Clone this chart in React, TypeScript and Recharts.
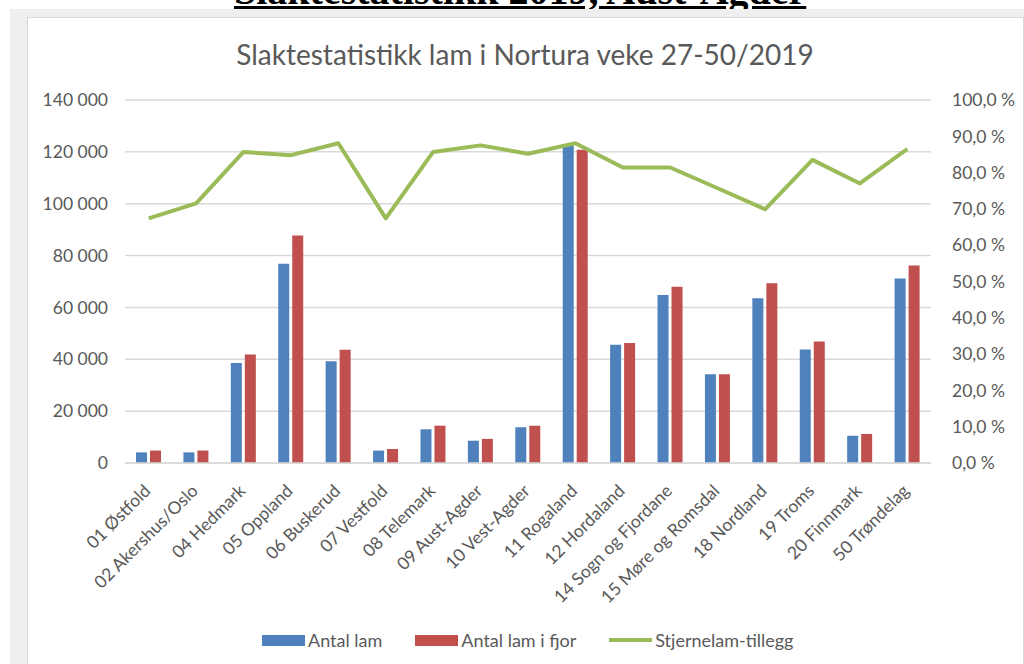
import { ComposedChart, Bar, Line, XAxis, YAxis, CartesianGrid } from 'recharts';

const regions = [
  '01 Østfold',
  '02 Akershus/Oslo',
  '04 Hedmark',
  '05 Oppland',
  '06 Buskerud',
  '07 Vestfold',
  '08 Telemark',
  '09 Aust-Agder',
  '10 Vest-Agder',
  '11 Rogaland',
  '12 Hordaland',
  '14 Sogn og Fjordane',
  '15 Møre og Romsdal',
  '18 Nordland',
  '19 Troms',
  '20 Finnmark',
  '50 Trøndelag',
];
const lamNow = [4100, 4100, 38600, 76800, 39200, 4800, 13000, 8600, 13800, 122300, 45600, 64800, 34200, 63500, 43800, 10500, 71200];
const lamLastYear = [4800, 4800, 41800, 87700, 43700, 5400, 14400, 9300, 14400, 120800, 46300, 68000, 34200, 69300, 46900, 11200, 76200];
const starLambPct = [67.4, 71.5, 85.7, 84.8, 88.1, 67.4, 85.7, 87.5, 85.2, 88.1, 81.4, 81.4, 75.7, 69.9, 83.5, 77.0, 86.5];

const leftTicks = [0, 20000, 40000, 60000, 80000, 100000, 120000, 140000];
const rightTicks = [0, 10, 20, 30, 40, 50, 60, 70, 80, 90, 100];

const series = [
  { key: 'lam', name: 'Antal lam', color: '#4F81BD', kind: 'bar' },
  { key: 'fjor', name: 'Antal lam i fjor', color: '#C0504D', kind: 'bar' },
  { key: 'pct', name: 'Stjernelam-tillegg', color: '#9BBB59', kind: 'line' },
];

const data = regions.map((region, i) => ({
  region,
  lam: lamNow[i],
  fjor: lamLastYear[i],
  pct: starLambPct[i],
}));

const FONT = 'Lato, sans-serif';
const TEXT = '#595959';

const fmtThousands = (v: number) => String(v).replace(/\B(?=(\d{3})+(?!\d))/g, ' ');
const fmtPct = (v: number) => v.toFixed(1).replace('.', ',') + ' %';

function RegionTick(props: any) {
  const { x, y, payload } = props;
  const ax = x + 3;
  const ay = y + 21;
  return (
    <text
      x={ax}
      y={ay}
      transform={`rotate(-45 ${ax} ${ay})`}
      textAnchor="end"
      fill={TEXT}
      fontSize={17.5}
      fontFamily={FONT}
    >
      {payload.value}
    </text>
  );
}

export default function App() {
  return (
    <div style={{ position: 'absolute', left: 0, top: 0, width: 1024, height: 664, overflow: 'hidden', background: '#fff' }}>
      {/* page heading, cut off at the top of the screenshot */}
      <div style={{ position: 'absolute', left: 0, top: 0, width: 1024, height: 9, overflow: 'hidden' }}>
        <div
          style={{
            position: 'absolute',
            left: 234,
            top: -33,
            whiteSpace: 'nowrap',
            fontFamily: '"Liberation Serif", serif',
            fontWeight: 'bold',
            fontSize: 40,
            textDecoration: 'underline',
            lineHeight: 'normal',
          }}
        >
          Slaktestatistikk 2019, Aust-Agder
        </div>
      </div>

      <div style={{ position: 'absolute', left: 10, top: 9, width: 1014, height: 655, background: '#efefef' }} />
      <div
        style={{
          position: 'absolute',
          left: 27,
          top: 17,
          width: 995,
          height: 660,
          background: '#fff',
          border: '1px solid #d9d9d9',
        }}
      />

      <div
        style={{
          position: 'absolute',
          left: 28,
          top: 37,
          width: 994,
          textAlign: 'center',
          fontFamily: FONT,
          fontSize: 28,
          color: TEXT,
        }}
      >
        Slaktestatistikk lam i Nortura veke 27-50/2019
      </div>

      <div style={{ position: 'absolute', left: 28, top: 18 }}>
        <ComposedChart
          width={994}
          height={646}
          data={data}
          margin={{ top: 82, right: 0, bottom: 0, left: 0 }}
          barSize={11}
          barGap={3}
        >
          <CartesianGrid yAxisId="left" vertical={false} stroke="#d9d9d9" strokeWidth={1.5} />
          <XAxis
            dataKey="region"
            interval={0}
            height={201}
            tickLine={false}
            axisLine={{ stroke: '#d9d9d9', strokeWidth: 1.5 }}
            tick={<RegionTick />}
          />
          <YAxis
            yAxisId="left"
            width={97}
            domain={[0, 140000]}
            ticks={leftTicks}
            tickFormatter={fmtThousands}
            tickLine={false}
            axisLine={false}
            tickMargin={11}
            tick={{ fill: TEXT, fontSize: 17.5, fontFamily: FONT }}
          />
          <YAxis
            yAxisId="right"
            orientation="right"
            width={91}
            domain={[0, 100]}
            ticks={rightTicks}
            tickFormatter={fmtPct}
            tickLine={false}
            axisLine={false}
            tickMargin={15}
            tick={{ fill: TEXT, fontSize: 17.5, fontFamily: FONT }}
          />
          <Bar yAxisId="left" dataKey="lam" name={series[0].name} fill={series[0].color} isAnimationActive={false} />
          <Bar yAxisId="left" dataKey="fjor" name={series[1].name} fill={series[1].color} isAnimationActive={false} />
          <Line
            yAxisId="right"
            type="linear"
            dataKey="pct"
            name={series[2].name}
            stroke={series[2].color}
            strokeWidth={4}
            strokeLinejoin="round"
            dot={false}
            activeDot={false}
            isAnimationActive={false}
          />
        </ComposedChart>
      </div>

      <div
        style={{
          position: 'absolute',
          left: 262,
          top: 629,
          display: 'flex',
          alignItems: 'center',
          fontFamily: FONT,
          fontSize: 18,
          color: TEXT,
          whiteSpace: 'nowrap',
        }}
      >
        {series.map((s) => (
          <div key={s.key} style={{ display: 'flex', alignItems: 'center', marginRight: 33 }}>
            <span
              style={{
                display: 'inline-block',
                width: 43,
                height: s.kind === 'bar' ? 11 : 4,
                background: s.color,
                marginRight: 3,
              }}
            />
            <span>{s.name}</span>
          </div>
        ))}
      </div>
    </div>
  );
}
